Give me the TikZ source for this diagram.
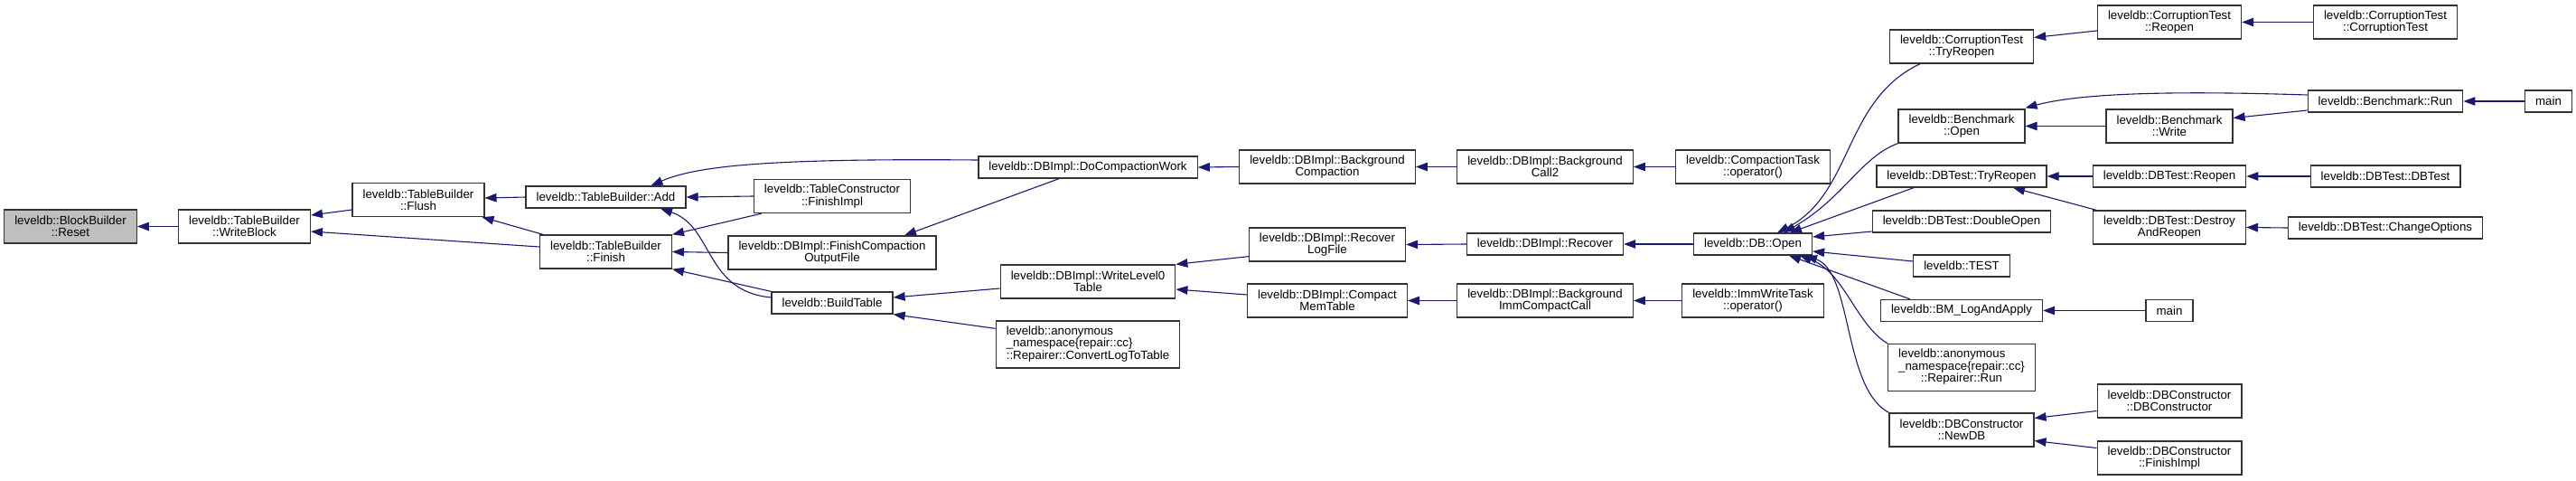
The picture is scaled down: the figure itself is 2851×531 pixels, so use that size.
\documentclass[tikz,border=0pt]{standalone}
\usepackage{fontspec}
\setmainfont{Liberation Sans}
\usetikzlibrary{arrows.meta}
\usetikzlibrary{math}

\definecolor{edgeblue}{HTML}{191970}
\definecolor{hlgray}{HTML}{BFBFBF}

\tikzset{
    funcbox/.style={draw=black!80, line width=1.3pt, fill=white,
        inner xsep=11.5pt, inner ysep=2pt, minimum height=24pt,
        align=center, font=\fontsize{13.3}{13.3}\selectfont},
    funcboxtwo/.style={funcbox, minimum height=37pt},
    funcboxthree/.style={funcbox, minimum height=52pt},
    call/.style={draw=edgeblue, line width=1.1pt,
        -{Triangle[length=13pt,width=9.5pt]}}
}

\begin{document}
\begin{tikzpicture}[x=1pt,y=-1pt]

% Position settings
\tikzmath{
    \ColA = 78; \ColB = 270.5; \ColC = 463; \ColD = 670.5;
    \ColE = 921; \ColF = 1204; \ColG = 1469; \ColH = 1710;
    \ColI = 1940; \ColJ = 2171; \ColK = 2401; \ColL = 2640; \ColM = 2820.5;
}

\useasboundingbox (0,0) rectangle (2851,531);

% Draws table builder nodes
\node (Reset) at (\ColA,250.5) [funcboxtwo, fill=hlgray] {leveldb::BlockBuilder\\::Reset};
\node (WriteBlock) at (\ColB,250.5) [funcboxtwo] {leveldb::TableBuilder\\::WriteBlock};
\node (Flush) at (\ColC,221) [funcboxtwo] {leveldb::TableBuilder\\::Flush};
\node (Add) at (\ColD,218) [funcbox] {leveldb::TableBuilder::Add};
\node (Finish) at (\ColD,278.5) [funcboxtwo] {leveldb::TableBuilder\\::Finish};
\node (TCFinishImpl) at (\ColE,217) [funcboxtwo] {leveldb::TableConstructor\\::FinishImpl};
\node (FCOF) at (\ColE,279.5) [funcboxtwo] {leveldb::DBImpl::FinishCompaction\\OutputFile};
\node (BuildTable) at (\ColE,335) [funcbox] {leveldb::BuildTable};

% Draws DBImpl nodes
\node (DoCompactionWork) at (\ColF,185) [funcbox] {leveldb::DBImpl::DoCompactionWork};
\node (WLZeroTable) at (\ColF,311.5) [funcboxtwo] {leveldb::DBImpl::WriteLevel0\\Table};
\node (ConvertLog) at (\ColF,381) [funcboxthree] {\begin{tabular}{@{}l@{}}leveldb::anonymous\\\_namespace\{repair::cc\}\\::Repairer::ConvertLogToTable\end{tabular}};
\node (BgCompaction) at (\ColG,184.5) [funcboxtwo] {leveldb::DBImpl::Background\\Compaction};
\node (RecoverLogFile) at (\ColG,270.5) [funcboxtwo] {leveldb::DBImpl::Recover\\LogFile};
\node (CompactMemTable) at (\ColG,332.5) [funcboxtwo] {leveldb::DBImpl::Compact\\MemTable};
\node (BgCall) at (\ColH,184.5) [funcboxtwo] {leveldb::DBImpl::Background\\Call2};
\node (Recover) at (\ColH,270) [funcbox] {leveldb::DBImpl::Recover};
\node (BgImm) at (\ColH,332.5) [funcboxtwo] {leveldb::DBImpl::Background\\ImmCompactCall};
\node (CompactionTask) at (\ColI,184.5) [funcboxtwo] {leveldb::CompactionTask\\::operator()};
\node (DBOpen) at (\ColI,270) [funcbox] {leveldb::DB::Open};
\node (ImmWriteTask) at (\ColI,332.5) [funcboxtwo] {leveldb::ImmWriteTask\\::operator()};

% Draws callers of DB::Open
\node (CTTryReopen) at (\ColJ,51.5) [funcboxtwo] {leveldb::CorruptionTest\\::TryReopen};
\node (BOpen) at (\ColJ,139.5) [funcboxtwo] {leveldb::Benchmark\\::Open};
\node (DBTTryReopen) at (\ColJ,195) [funcbox] {leveldb::DBTest::TryReopen};
\node (DoubleOpen) at (\ColJ,245) [funcbox] {leveldb::DBTest::DoubleOpen};
\node (TEST) at (\ColJ,294) [funcbox] {leveldb::TEST};
\node (BMLog) at (\ColJ,343.5) [funcbox] {leveldb::BM\_LogAndApply};
\node (RepRun) at (\ColJ,406.5) [funcboxthree] {\begin{tabular}{@{}l@{}}leveldb::anonymous\\\_namespace\{repair::cc\}\\\multicolumn{1}{@{}c@{}}{::Repairer::Run}\end{tabular}};
\node (NewDB) at (\ColJ,475.5) [funcboxtwo] {leveldb::DBConstructor\\::NewDB};

% Draws outer callers
\node (CTReopen) at (\ColK,24.5) [funcboxtwo] {leveldb::CorruptionTest\\::Reopen};
\node (BWrite) at (\ColK,139.5) [funcboxtwo] {leveldb::Benchmark\\::Write};
\node (DBTReopen) at (\ColK,195) [funcbox] {leveldb::DBTest::Reopen};
\node (Destroy) at (\ColK,251.5) [funcboxtwo] {leveldb::DBTest::Destroy\\AndReopen};
\node (MainB) at (\ColK,343.5) [funcbox] {main};
\node (DBCCtor) at (\ColK,443.5) [funcboxtwo] {leveldb::DBConstructor\\::DBConstructor};
\node (DBCFinish) at (\ColK,506.5) [funcboxtwo] {leveldb::DBConstructor\\::FinishImpl};
\node (CTCT) at (\ColL,24.5) [funcboxtwo] {leveldb::CorruptionTest\\::CorruptionTest};
\node (BRun) at (\ColL,112) [funcbox] {leveldb::Benchmark::Run};
\node (DBTDBTest) at (\ColL,195) [funcbox] {leveldb::DBTest::DBTest};
\node (ChangeOpt) at (\ColL,252) [funcbox] {leveldb::DBTest::ChangeOptions};
\node (MainA) at (\ColM,112) [funcbox] {main};

% Draws calls into the table builder
\draw [call] (WriteBlock.west) -- (Reset.east);
\draw [call] ([shift={(0,11)}]Flush.west) -- ([shift={(0,-12.5)}]WriteBlock.east);
\draw [call] ([shift={(0,-5.5)}]Finish.west) -- ([shift={(0,5.5)}]WriteBlock.east);
\draw [call] (Add.west) -- ([shift={(0,-2)}]Flush.east);
\draw [call] ([shift={(4,0)}]Finish.north west) -- ([shift={(-3,0)}]Flush.south east);
\draw [call] ([shift={(0,-8)}]DoCompactionWork.west) .. controls +(-230,-2) and +(50,-22) .. ([shift={(50,0)}]Add.north);
\draw [call] (TCFinishImpl.west) -- (Add.east);
\draw [call] ([shift={(0,-6)}]BuildTable.west) .. controls +(-74,-7) and +(59,20) .. ([shift={(60.5,0)}]Add.south);
\draw [call] ([shift={(9,0)}]TCFinishImpl.south west) -- (Finish.north east);
\draw [call] (FCOF.west) -- (Finish.east);
\draw [call] (BuildTable.north west) -- (Finish.south east);
\draw [call] ([shift={(-32,0)}]DoCompactionWork.south) -- ([shift={(80,0)}]FCOF.north);
\draw [call] ([shift={(0,7.5)}]WLZeroTable.west) -- ([shift={(0,-6)}]BuildTable.east);
\draw [call] ([shift={(0,9)}]ConvertLog.north west) -- (BuildTable.south east);

% Draws calls between DBImpl nodes
\draw [call] (BgCompaction.west) -- (DoCompactionWork.east);
\draw [call] ([shift={(0,-6)}]RecoverLogFile.south west) -- (WLZeroTable.north east);
\draw [call] ([shift={(0,-6.5)}]CompactMemTable.west) -- ([shift={(0,8.5)}]WLZeroTable.east);
\draw [call] (BgCall.west) -- (BgCompaction.east);
\draw [call] (Recover.west) -- (RecoverLogFile.east);
\draw [call] (BgImm.west) -- (CompactMemTable.east);
\draw [call] (CompactionTask.west) -- (BgCall.east);
\draw [call] (DBOpen.west) -- (Recover.east);
\draw [call] (ImmWriteTask.west) -- (BgImm.east);

% Draws calls into DB::Open
\draw [call] ([shift={(-46,0)}]CTTryReopen.south) .. controls +(-85,40) and +(84,-43) .. ([shift={(27,0)}]DBOpen.north);
\draw [call] (BOpen.south west) .. controls +(-41,15) and +(66.5,-38) .. ([shift={(34,0)}]DBOpen.north);
\draw [call] ([shift={(-53,0)}]DBTTryReopen.south) -- ([shift={(41,0)}]DBOpen.north);
\draw [call] ([shift={(0,11)}]DoubleOpen.west) -- ([shift={(0,-8)}]DBOpen.east);
\draw [call] ([shift={(0,-5)}]TEST.west) -- ([shift={(0,8)}]DBOpen.east);
\draw [call] ([shift={(-57,0)}]BMLog.north) -- ([shift={(40,0)}]DBOpen.south);
\draw [call] (RepRun.north west) .. controls +(-35,-21) and +(49,18) .. ([shift={(52,0)}]DBOpen.south);
\draw [call] (NewDB.north west) .. controls +(-51,-27) and +(52.5,18) .. ([shift={(58,0)}]DBOpen.south);

% Draws outer calls
\draw [call] ([shift={(0,9.5)}]CTReopen.west) -- ([shift={(0,-10)}]CTTryReopen.east);
\draw [call] (CTCT.west) -- (CTReopen.east);
\draw [call] ([shift={(0,-7)}]BRun.west) .. controls +(-154,-5) and +(60,-16) .. ([shift={(0,-1)}]BOpen.north east);
\draw [call] (BWrite.west) -- (BOpen.east);
\draw [call] ([shift={(0,10)}]BRun.west) -- ([shift={(0,-9)}]BWrite.east);
\draw [call] (MainA.west) -- (BRun.east);
\draw [call] (DBTReopen.west) -- (DBTTryReopen.east);
\draw [call] ([shift={(4,0)}]Destroy.north west) -- ([shift={(57,0)}]DBTTryReopen.south);
\draw [call] (DBTDBTest.west) -- (DBTReopen.east);
\draw [call] (ChangeOpt.west) -- (Destroy.east);
\draw [call] (MainB.west) -- (BMLog.east);
\draw [call] ([shift={(0,11)}]DBCCtor.west) -- ([shift={(0,-13)}]NewDB.east);
\draw [call] ([shift={(0,-11)}]DBCFinish.west) -- ([shift={(0,12)}]NewDB.east);

\end{tikzpicture}
\end{document}
